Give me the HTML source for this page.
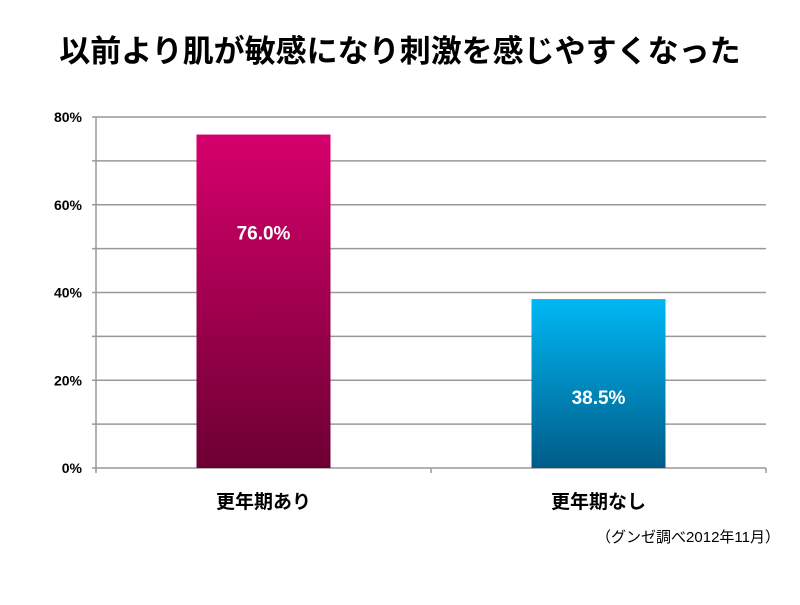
<!DOCTYPE html>
<html><head><meta charset="utf-8"><style>
body{margin:0;background:#fff;width:800px;height:600px;overflow:hidden;font-family:"Liberation Sans","Noto Sans CJK JP",sans-serif}
</style></head><body>
<svg width="800" height="600">
<defs>
<linearGradient id="g1" x1="0" y1="0" x2="0" y2="1"><stop offset="0" stop-color="#d6006c"/><stop offset="1" stop-color="#6c0032"/></linearGradient>
<linearGradient id="g2" x1="0" y1="0" x2="0" y2="1"><stop offset="0" stop-color="#00b8f4"/><stop offset="1" stop-color="#005c88"/></linearGradient>
</defs>
<text x="400" y="62" text-anchor="middle" font-size="31" font-weight="bold" fill="#000" font-family="Liberation Sans,Noto Sans CJK JP,sans-serif">以前より肌が敏感になり刺激を感じやすくなった</text>
<g id="grid"></g>
<g id="bars"></g>
<text x="780" y="542" text-anchor="end" font-size="15" font-family="Liberation Sans,Noto Sans CJK JP,sans-serif">（グンゼ調べ2012年11月）</text>
</svg>
<script>
const categories=["更年期あり","更年期なし"];
const values=[76.0,38.5];
const labels=["76.0%","38.5%"];
const ticks=[0,10,20,30,40,50,60,70,80];
const fills=["url(#g1)","url(#g2)"];
const X0=96,X1=766,Y0=468,Y80=117;
const y=v=>Y0-(v/80)*(Y0-Y80);
const cw=(X1-X0)/categories.length;
const ns="http://www.w3.org/2000/svg";
const grid=document.getElementById('grid'),bars=document.getElementById('bars');
function mk(t,a,p){const e=document.createElementNS(ns,t);for(const k in a)e.setAttribute(k,a[k]);p.appendChild(e);return e;}
ticks.forEach(t=>{
 const l=mk('line',{x1:X0-4,x2:X1,y1:y(t),y2:y(t),stroke:'#999','stroke-width':1.5},grid);
 
 
 if(t%20===0){
  const tx=mk('text',{x:X0-14,y:y(t)+5,'text-anchor':'end','font-size':14,'font-weight':'bold'},grid);
  tx.textContent=t+'%';
  
  
 }
});
const ax=mk('line',{x1:X0,x2:X0,y1:Y80,y2:Y0+3,stroke:'#999','stroke-width':1.5},grid);


for(let i=0;i<=categories.length;i++){
 const tk=mk('line',{x1:X0+i*cw,x2:X0+i*cw,y1:Y0,y2:Y0+5,stroke:'#999','stroke-width':1.5},grid);
 
 
}
categories.forEach((c,i)=>{
 const cx=X0+cw*(i+0.5),bw=134;
 const r=mk('rect',{x:cx-bw/2,y:y(values[i]),width:bw,height:Y0-y(values[i]),fill:fills[i]},bars);
 
 
 const v=mk('text',{x:cx,y:y(values[i])+105,'text-anchor':'middle','font-size':19,'font-weight':'bold',fill:'#fff'},bars);
 v.textContent=labels[i];
 
 
 const cl=mk('text',{x:cx,y:508,'text-anchor':'middle','font-size':19,'font-weight':'bold'},bars);
 cl.textContent=c;
 
 
});
</script>
</body></html>
